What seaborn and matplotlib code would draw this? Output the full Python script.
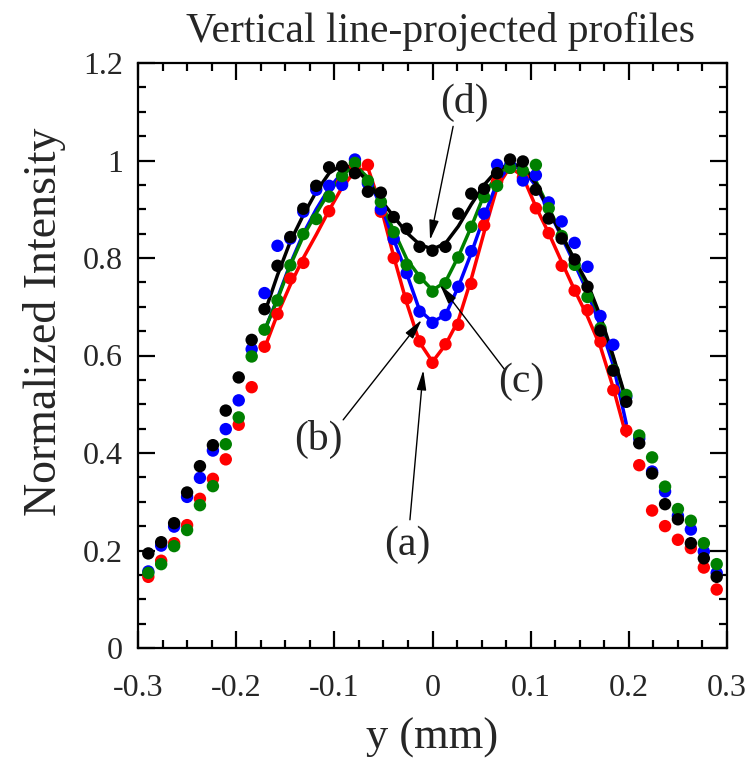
import numpy as np
import pandas as pd
import matplotlib
matplotlib.use("Agg")
import matplotlib.pyplot as plt
import seaborn as sns
from matplotlib.ticker import MultipleLocator

# ---------------- data ----------------
y_mm = [-0.2895, -0.2764, -0.2632, -0.2500, -0.2369, -0.2237, -0.2106, -0.1974, -0.1842,
        -0.1711, -0.1579, -0.1448, -0.1316, -0.1184, -0.1053, -0.0921, -0.0790, -0.0658,
        -0.0526, -0.0395, -0.0263, -0.0132, 0.0, 0.0132, 0.0263, 0.0395, 0.0526, 0.0658,
        0.0790, 0.0921, 0.1053, 0.1184, 0.1316, 0.1448, 0.1579, 0.1711, 0.1842, 0.1974,
        0.2106, 0.2237, 0.2369, 0.2500, 0.2632, 0.2764, 0.2895]

red_pts = [0.146, 0.179, 0.215, 0.252, 0.306, 0.347, 0.387, 0.458, 0.535, 0.618, 0.685, 0.758,
           0.790, np.nan, 0.896, 0.955, 0.990, 0.991, 0.895, 0.800, 0.717, 0.629, 0.585, 0.623,
           0.663, 0.747, 0.867, 0.957, 0.985, 0.965, 0.902, 0.851, 0.784, 0.733, 0.693, 0.628,
           0.529, 0.446, 0.375, 0.282, 0.250, 0.222, 0.205, 0.165, 0.120]
blue_pts = [0.157, 0.210, 0.249, 0.310, 0.349, 0.405, 0.449, 0.508, 0.613, 0.728, 0.825, 0.840,
            0.895, 0.940, 0.948, 0.950, 1.002, 0.953, 0.900, 0.839, 0.769, 0.690, 0.667, 0.683,
            0.741, 0.814, 0.891, 0.991, 0.990, 0.959, 0.970, 0.914, 0.875, 0.831, 0.782, 0.681,
            0.622, 0.515, 0.430, 0.362, 0.321, 0.271, 0.243, 0.198, 0.154]
green_pts = [0.154, 0.172, 0.209, 0.242, 0.293, 0.332, 0.418, 0.473, 0.598, 0.653, 0.713, 0.785,
             0.849, 0.880, 0.926, 0.968, 0.995, 0.958, 0.915, 0.853, 0.786, 0.759, 0.731, 0.748,
             0.801, 0.864, 0.925, 0.948, 0.985, 0.979, 0.991, 0.902, 0.845, 0.786, 0.720, 0.656,
             0.570, 0.519, 0.436, 0.391, 0.331, 0.285, 0.261, 0.215, 0.172]
black_pts = [0.194, 0.217, 0.256, 0.319, 0.373, 0.416, 0.487, 0.555, 0.632, 0.695, 0.784, 0.843,
             0.901, 0.948, 0.986, 0.988, 0.974, 0.936, 0.934, 0.884, 0.860, 0.823, 0.815, 0.823,
             0.891, 0.932, 0.942, 0.974, 1.002, 0.998, 0.940, 0.881, 0.840, 0.797, 0.741, 0.651,
             0.569, 0.505, 0.420, 0.358, 0.295, 0.264, 0.215, 0.184, 0.146]

fit_x = y_mm[9:38]
red_fit = [0.615, 0.685, 0.745, 0.800, 0.848, 0.898, 0.945, 0.978, 0.985, 0.905, 0.803, 0.708,
           0.627, 0.587, 0.622, 0.672, 0.757, 0.853, 0.945, 0.987, 0.967, 0.905, 0.851, 0.792,
           0.734, 0.680, 0.618, 0.533, 0.435]
blue_fit = [0.650, 0.718, 0.788, 0.850, 0.900, 0.943, 0.975, 0.990, 0.962, 0.908, 0.838, 0.768,
            0.693, 0.669, 0.683, 0.741, 0.810, 0.885, 0.955, 0.990, 0.982, 0.948, 0.898, 0.843,
            0.788, 0.730, 0.660, 0.580, 0.460]
green_fit = [0.652, 0.715, 0.785, 0.845, 0.892, 0.935, 0.970, 0.990, 0.965, 0.915, 0.856, 0.798,
             0.762, 0.734, 0.751, 0.803, 0.864, 0.930, 0.970, 0.992, 0.988, 0.958, 0.903, 0.848,
             0.795, 0.740, 0.675, 0.595, 0.505]
black_fit = [0.687, 0.765, 0.834, 0.888, 0.936, 0.974, 0.991, 0.984, 0.957, 0.919, 0.885, 0.852,
             0.828, 0.818, 0.830, 0.865, 0.910, 0.950, 0.980, 0.994, 0.987, 0.953, 0.898, 0.847,
             0.796, 0.748, 0.680, 0.598, 0.509]

x_ticks = [-0.3, -0.2, -0.1, 0, 0.1, 0.2, 0.3]
x_ticklabels = ["-0.3", "-0.2", "-0.1", "0", "0.1", "0.2", "0.3"]
y_ticks = [0, 0.2, 0.4, 0.6, 0.8, 1.0, 1.2]
y_ticklabels = ["0", "0.2", "0.4", "0.6", "0.8", "1", "1.2"]
colors = ["#ff0000", "#0000ff", "#008000", "#000000"]

# ---------------- plot ----------------
sns.set_theme(style="ticks")
plt.rcParams["font.family"] = ["Liberation Serif", "DejaVu Serif"]

fig = plt.figure(figsize=(7.47, 7.59), dpi=100)
ax = fig.add_axes([138 / 747, 1 - 648 / 759, (727 - 138) / 747, (648 - 63) / 759])

pts = [red_pts, blue_pts, green_pts, black_pts]
fits = [red_fit, blue_fit, green_fit, black_fit]

for f, c in zip(fits, colors):
    sns.lineplot(x=fit_x, y=f, color=c, lw=2.5, sort=False, ax=ax)
for p, c in zip(pts, colors):
    sns.scatterplot(x=y_mm, y=p, color=c, s=80, edgecolor="none", linewidth=0, ax=ax, zorder=3)

ax.set_xlim(-0.3, 0.3)
ax.set_ylim(0, 1.2)
ax.set_xticks(x_ticks)
ax.set_xticklabels(x_ticklabels)
ax.set_yticks(y_ticks)
ax.set_yticklabels(y_ticklabels)
ax.xaxis.set_minor_locator(MultipleLocator(0.025))
ax.yaxis.set_minor_locator(MultipleLocator(0.05))

ax.tick_params(which="both", direction="in", top=True, right=True, width=1.6, color="black")
ax.tick_params(which="major", length=12, labelsize=23)
ax.tick_params(axis="x", which="major", pad=19)
ax.tick_params(axis="y", which="major", pad=11)
ax.tick_params(which="minor", length=6)
for s in ax.spines.values():
    s.set_linewidth(1.6)
    s.set_color("black")

ax.set_xlabel("y (mm)", fontsize=32, labelpad=10)
ax.set_ylabel("Normalized Intensity", fontsize=33)
ax.yaxis.set_label_coords(-0.122, 0.557)
ax.set_title("Vertical line-projected profiles", fontsize=30, pad=15, x=0.514)

arrow = dict(arrowstyle="-|>,head_length=1.0,head_width=0.24", color="black", lw=1.0,
             shrinkA=0, shrinkB=0)
ax.annotate("", xy=(-0.0025, 0.837), xytext=(0.021, 1.07), arrowprops=arrow)
ax.text(0.033, 1.118, "(d)", fontsize=30, ha="center", va="center")
ax.annotate("", xy=(0.0076, 0.745), xytext=(0.0739, 0.570), arrowprops=arrow)
ax.text(0.0901, 0.546, "(c)", fontsize=30, ha="center", va="center")
ax.annotate("", xy=(-0.011, 0.673), xytext=(-0.091, 0.468), arrowprops=arrow)
ax.text(-0.1166, 0.427, "(b)", fontsize=30, ha="center", va="center")
ax.annotate("", xy=(-0.0094, 0.570), xytext=(-0.023, 0.263), arrowprops=arrow)
ax.text(-0.026, 0.211, "(a)", fontsize=30, ha="center", va="center")

fig.savefig("out.png", dpi=100)
